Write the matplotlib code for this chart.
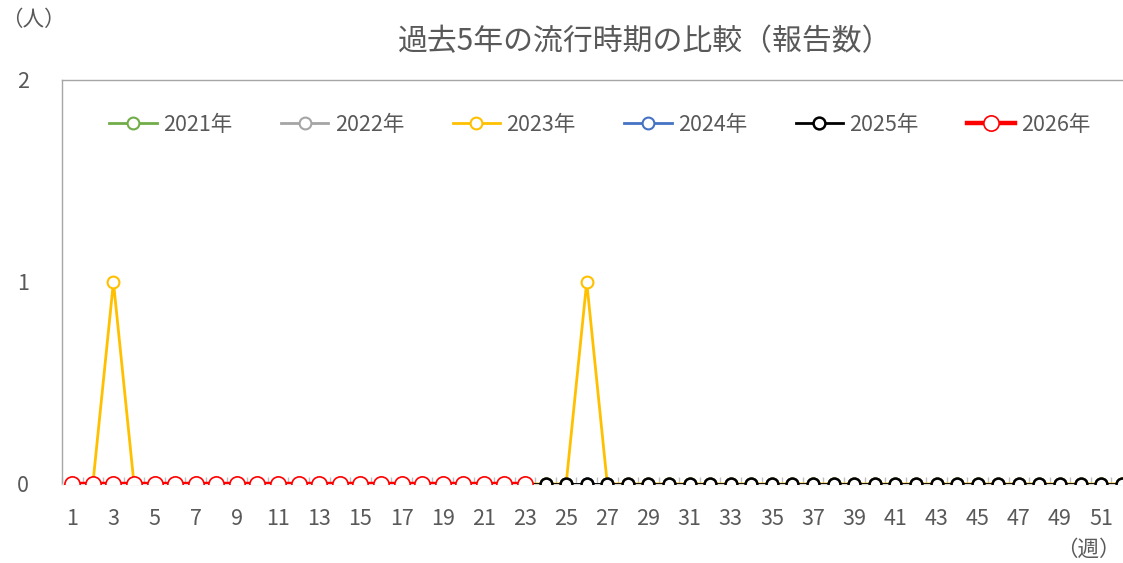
import matplotlib
matplotlib.use("Agg")
import matplotlib.pyplot as plt
from matplotlib.ticker import FixedLocator

plt.rcParams['font.family'] = ['Noto Sans CJK JP', 'DejaVu Sans']

weeks = list(range(1, 53))
y2021 = [0] * 52
y2022 = [0] * 52
y2023 = [0, 0, 1, 0] + [0] * 21 + [1, 0] + [0] * 25
y2024 = [0] * 52
y2025 = [0] * 52
y2026 = [0] * 23
labels = ['2021年', '2022年', '2023年', '2024年', '2025年', '2026年']
title = '過去5年の流行時期の比較（報告数）'

fig = plt.figure(figsize=(11.23, 5.63), dpi=100)
ax = fig.add_axes([62/1123, 1-484/563, (1132-62)/1123, (484-80)/563])

gray = '#595959'
ax.plot(weeks, y2021, color='#70AD47', lw=2, marker='o', ms=8.5, mfc='white', mew=1.5, label=labels[0], zorder=2)
ax.plot(weeks, y2022, color='#A5A5A5', lw=2, marker='o', ms=8.5, mfc='white', mew=1.5, label=labels[1], zorder=2)
ax.plot(weeks, y2023, color='#FFC000', lw=2, marker='o', ms=8.5, mfc='white', mew=1.5, label=labels[2], zorder=3)
ax.plot(weeks, y2024, color='#4472C4', lw=2, marker='o', ms=8.5, mfc='white', mew=1.5, label=labels[3], zorder=2)
ax.plot(weeks, y2025, color='black', lw=2, marker='o', ms=8.5, mfc='white', mew=1.8, label=labels[4], zorder=4)
ax.plot(weeks[:len(y2026)], y2026, color='#FF0000', lw=3.2, marker='o', ms=11, mfc='white', mew=1.2, label=labels[5], zorder=5)

ax.set_xlim(0.5, 52.5)
ax.set_ylim(0, 2)
ax.set_yticks([0, 1, 2])
ax.set_xticks(list(range(1, 53, 2)))
ax.xaxis.set_minor_locator(FixedLocator([w + 0.5 for w in range(0, 53)]))
ax.tick_params(axis='x', which='major', length=0, labelsize=15.5, labelcolor=gray, pad=17)
ax.tick_params(axis='x', which='minor', direction='in', length=5, color='#BFBFBF', width=1)
ax.tick_params(axis='y', length=0, labelsize=15.5, labelcolor=gray, pad=24)

for s in ['left', 'top', 'bottom']:
    ax.spines[s].set_color('#A6A6A6')
    ax.spines[s].set_linewidth(1)
ax.spines['right'].set_visible(False)
ax.spines['bottom'].set_color('#D9D9D9')

leg = ax.legend(loc='center', bbox_to_anchor=(538/1070, 1-45/404), ncol=6, frameon=False,
                fontsize=15.5, handlelength=2.2, columnspacing=2.25, handletextpad=0.3)
for t in leg.get_texts():
    t.set_color(gray)

fig.text(645/1123, 1-42/563, title, ha='center', va='center', fontsize=21.5, color=gray)
fig.text(1/1123, 1-20/563, '（人）', ha='left', va='center', fontsize=15.5, color=gray)
fig.text(1121/1123, 1-550/563, '（週）', ha='right', va='center', fontsize=15.5, color=gray)

fig.savefig('out.png', dpi=100)
